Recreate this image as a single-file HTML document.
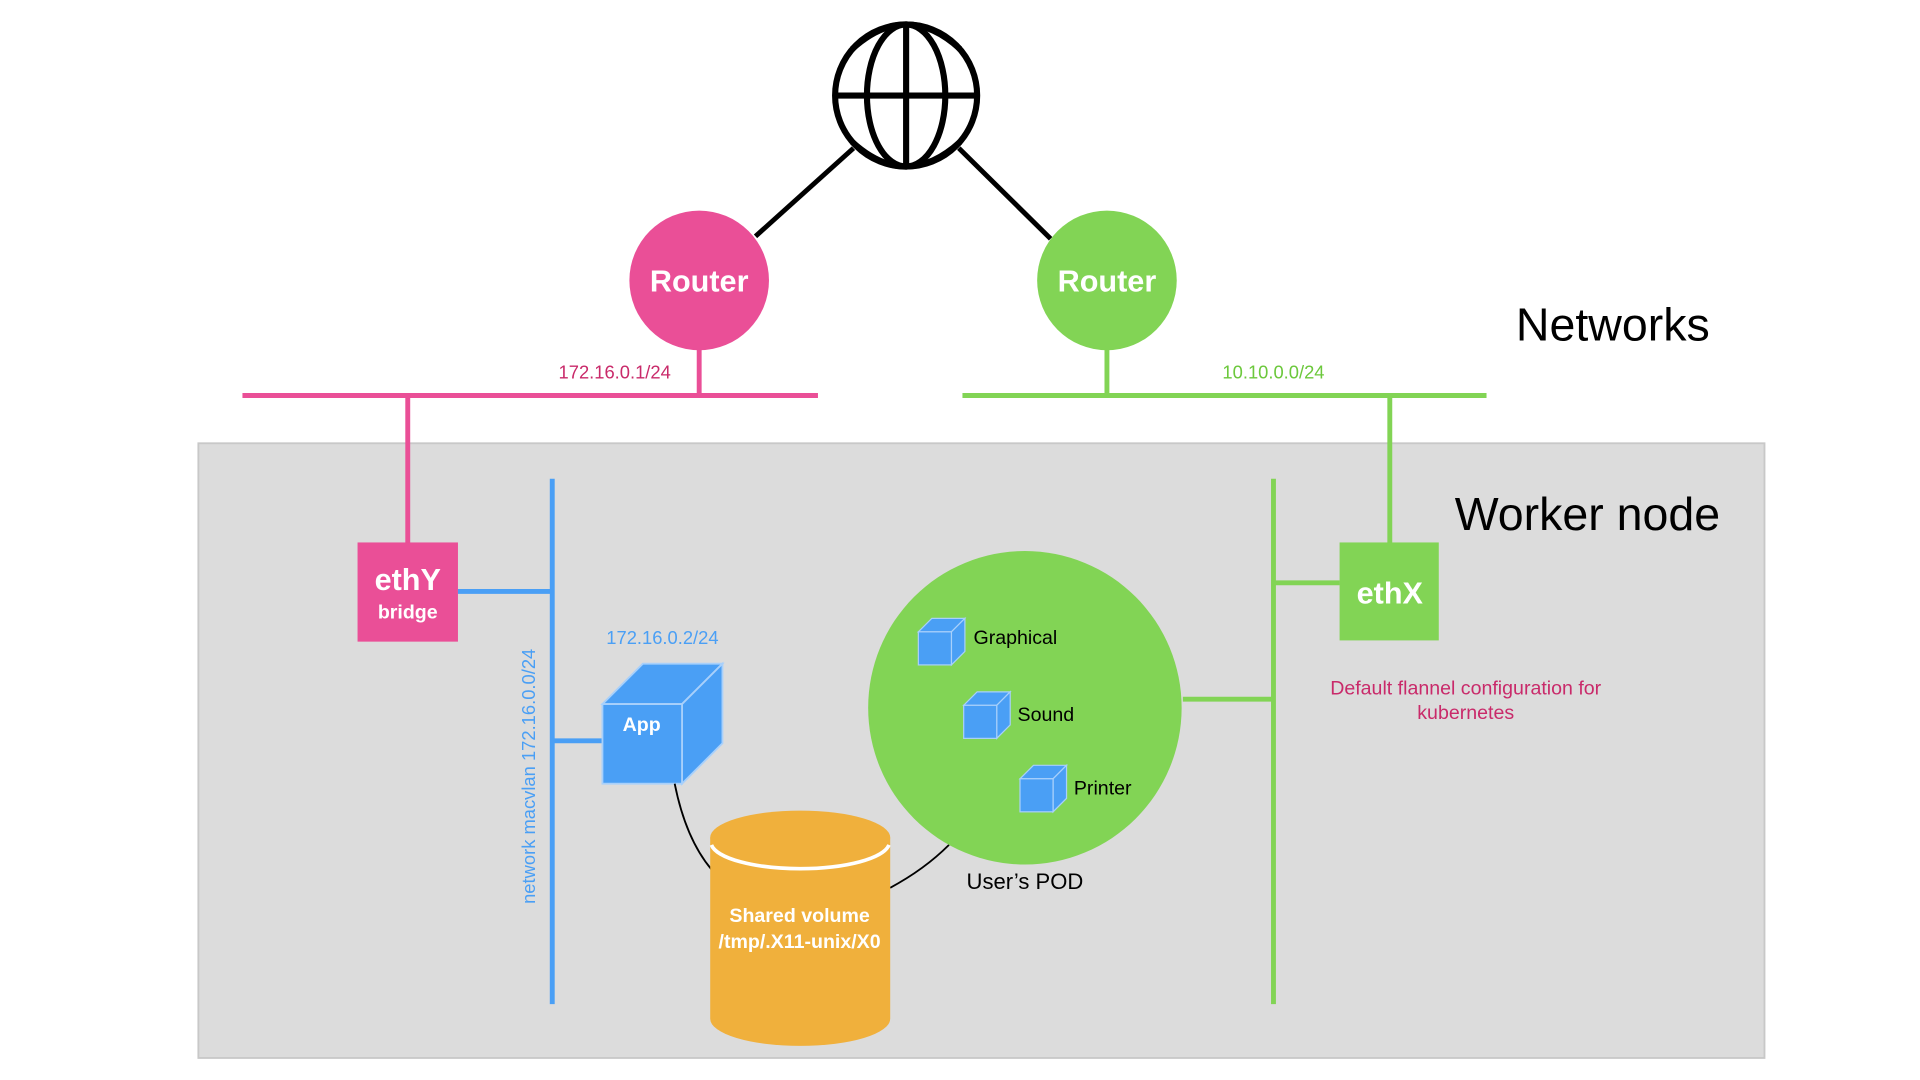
<!DOCTYPE html>
<html><head><meta charset="utf-8"><style>
html,body{margin:0;padding:0;background:#fff;width:1920px;height:1080px;overflow:hidden}
text{font-family:"Liberation Sans",Arial,sans-serif}
</style></head><body>
<svg width="1920" height="1080" viewBox="0 0 1568 882" preserveAspectRatio="none" xmlns="http://www.w3.org/2000/svg">
<rect x="162" y="362" width="1279" height="502" fill="#dcdcdc" stroke="#c8c8c8" stroke-width="1.5"/>
<g fill="none" stroke="#000" stroke-width="5">
<circle cx="740" cy="78" r="58"/>
<ellipse cx="740" cy="78" rx="32" ry="58"/>
<line x1="740" y1="20" x2="740" y2="136"/>
<line x1="682" y1="78" x2="798" y2="78"/>
<path d="M696 40 Q740 0 784 40"/>
<path d="M696 116 Q740 156 784 116"/>
</g>
<g stroke="#000" stroke-width="4"><line x1="697" y1="121" x2="617" y2="193"/><line x1="783" y1="121" x2="858" y2="195"/></g>
<circle cx="571" cy="229" r="57" fill="#ea4f97"/>
<circle cx="904" cy="229" r="57" fill="#82d455"/>
<text x="571" y="238" font-size="25" font-weight="bold" fill="#fff" text-anchor="middle">Router</text>
<text x="904" y="238" font-size="25" font-weight="bold" fill="#fff" text-anchor="middle">Router</text>
<g stroke="#ea4f97" stroke-width="4"><line x1="198" y1="323" x2="668" y2="323"/><line x1="571" y1="285" x2="571" y2="323"/><line x1="333" y1="323" x2="333" y2="443"/></g>
<g stroke="#82d455" stroke-width="4"><line x1="786" y1="323" x2="1214" y2="323"/><line x1="904" y1="285" x2="904" y2="323"/><line x1="1135" y1="323" x2="1135" y2="443"/>
<line x1="1040" y1="391" x2="1040" y2="820"/><line x1="966" y1="571" x2="1040" y2="571"/><line x1="1040" y1="476" x2="1094" y2="476"/></g>
<text x="502" y="309" font-size="15" fill="#c92a6a" text-anchor="middle">172.16.0.1/24</text>
<text x="1040" y="309" font-size="15" fill="#6cc83c" text-anchor="middle">10.10.0.0/24</text>
<text x="1238" y="278" font-size="38" fill="#000">Networks</text>
<text x="1188" y="433" font-size="38" fill="#000">Worker node</text>
<rect x="292" y="443" width="82" height="81" fill="#ea4f97"/>
<text x="333" y="482" font-size="25" font-weight="bold" fill="#fff" text-anchor="middle">ethY</text>
<text x="333" y="505" font-size="16" font-weight="bold" fill="#fff" text-anchor="middle">bridge</text>
<rect x="1094" y="443" width="81" height="80" fill="#82d455"/>
<text x="1135" y="493" font-size="25" font-weight="bold" fill="#fff" text-anchor="middle">ethX</text>
<g stroke="#4a9ff5" stroke-width="4"><line x1="451" y1="391" x2="451" y2="820"/><line x1="374" y1="483" x2="451" y2="483"/><line x1="451" y1="605" x2="492" y2="605"/></g>
<text transform="translate(437,634) rotate(-90)" font-size="15" fill="#4a9ff5" text-anchor="middle">network macvlan 172.16.0.0/24</text>
<text x="541" y="526" font-size="15" fill="#4a9ff5" text-anchor="middle">172.16.0.2/24</text>
<g fill="#4a9ff5" stroke="#a8d0fb" stroke-width="1.5">
<polygon points="492,575 525,542 590,542 557,575"/>
<polygon points="557,575 590,542 590,607 557,640"/>
<rect x="492" y="575" width="65" height="65"/>
</g>
<text x="524" y="597" font-size="16" font-weight="bold" fill="#fff" text-anchor="middle">App</text>
<path d="M551 640 Q560 685 581 710" fill="none" stroke="#000" stroke-width="1.5"/>
<path d="M727 725 Q755 710 775 690" fill="none" stroke="#000" stroke-width="1.5"/>
<path d="M580 684 L580 832 A73 22 0 0 0 727 832 L727 684 Z" fill="#f0b03c"/>
<ellipse cx="653.5" cy="684" rx="73.5" ry="22" fill="#f0b03c"/>
<path d="M581 690 A73 22 0 0 0 726 690" fill="none" stroke="#fff" stroke-width="3"/>
<text x="653" y="753" font-size="16" font-weight="bold" fill="#fff" text-anchor="middle">Shared volume</text>
<text x="653" y="774" font-size="16" font-weight="bold" fill="#fff" text-anchor="middle">/tmp/.X11-unix/X0</text>
<circle cx="837" cy="578" r="128" fill="#82d455"/>
<text x="837" y="726" font-size="18" fill="#000" text-anchor="middle">User’s POD</text>
<g fill="#4a9ff5" stroke="#a8d0fb" stroke-width="1">
<polygon points="750,516 761,505 788,505 777,516"/><polygon points="777,516 788,505 788,532 777,543"/><rect x="750" y="516" width="27" height="27"/>
<polygon points="787,576 798,565 825,565 814,576"/><polygon points="814,576 825,565 825,592 814,603"/><rect x="787" y="576" width="27" height="27"/>
<polygon points="833,636 844,625 871,625 860,636"/><polygon points="860,636 871,625 871,652 860,663"/><rect x="833" y="636" width="27" height="27"/>
</g>
<text x="795" y="526" font-size="16" fill="#000">Graphical</text>
<text x="831" y="589" font-size="16" fill="#000">Sound</text>
<text x="877" y="649" font-size="16" fill="#000">Printer</text>
<text x="1197" y="567" font-size="16" fill="#c92a6a" text-anchor="middle">Default flannel configuration for</text>
<text x="1197" y="587" font-size="16" fill="#c92a6a" text-anchor="middle">kubernetes</text>
</svg>
</body></html>
